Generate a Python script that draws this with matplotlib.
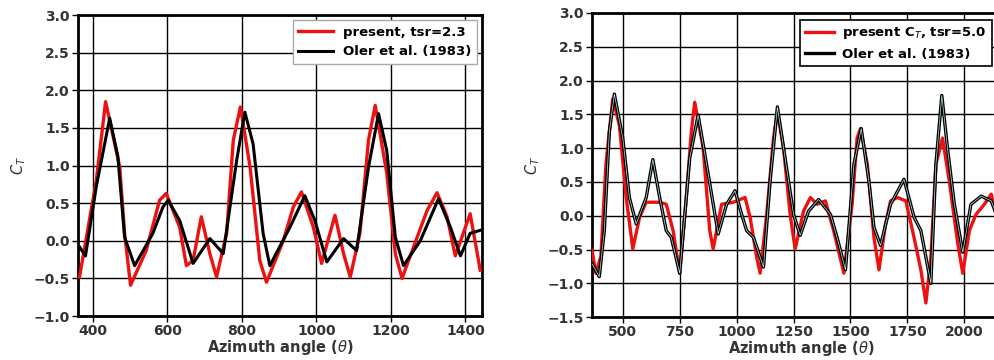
import matplotlib
matplotlib.use("Agg")
import matplotlib.pyplot as plt

# Left panel (tsr = 2.3)
l_red_x = [364, 409, 434, 472, 485, 501, 543, 579, 597, 633, 651, 669, 691, 714, 732, 759, 777, 796,
           822, 848, 866, 911, 938, 960, 992, 1014, 1050, 1073, 1091, 1117, 1140, 1158, 1189, 1212,
           1230, 1261, 1297, 1324, 1351, 1373, 1413, 1440]
l_red_y = [-0.48, 0.80, 1.85, 0.98, 0.10, -0.59, -0.13, 0.54, 0.63, 0.18, -0.33, -0.26, 0.32, -0.17,
           -0.48, 0.10, 1.34, 1.78, 0.98, -0.26, -0.55, 0.00, 0.45, 0.65, 0.18, -0.30, 0.34, -0.17,
           -0.48, 0.10, 1.34, 1.80, 0.90, -0.17, -0.50, -0.08, 0.40, 0.64, 0.32, -0.20, 0.36, -0.39]
l_blk_x = [364, 380, 409, 445, 467, 485, 512, 561, 588, 602, 633, 669, 714, 750, 786, 808, 830, 857,
           875, 929, 969, 996, 1028, 1073, 1108, 1140, 1167, 1189, 1212, 1234, 1279, 1328, 1360,
           1387, 1413, 1440]
l_blk_y = [-0.08, -0.20, 0.72, 1.63, 1.12, 0.05, -0.33, 0.10, 0.45, 0.54, 0.27, -0.30, 0.03, -0.17,
           1.07, 1.71, 1.29, 0.10, -0.33, 0.18, 0.60, 0.27, -0.28, 0.03, -0.13, 0.98, 1.69, 1.20,
           0.05, -0.33, 0.00, 0.56, 0.18, -0.20, 0.10, 0.14]

# Right panel (tsr = 5.0)
r_red_x = [365, 382, 404, 426, 456, 485, 515, 544, 574, 603, 662, 691, 721, 750, 779, 801, 816, 853,
           882, 897, 934, 985, 1037, 1059, 1088, 1103, 1132, 1162, 1179, 1206, 1235, 1257, 1294,
           1324, 1353, 1390, 1426, 1471, 1507, 1529, 1544, 1574, 1603, 1625, 1654, 1676, 1706,
           1743, 1779, 1809, 1831, 1853, 1875, 1904, 1934, 1971, 1993, 2022, 2051, 2088, 2118, 2135]
r_red_y = [-0.51, -0.85, -0.60, 0.76, 1.73, 1.34, 0.27, -0.49, -0.02, 0.20, 0.20, 0.17, -0.22, -0.85,
           0.27, 1.24, 1.68, 1.00, -0.22, -0.49, 0.17, 0.20, 0.27, -0.02, -0.61, -0.85, 0.02, 1.15,
           1.54, 1.00, 0.02, -0.49, 0.07, 0.27, 0.17, 0.22, -0.22, -0.85, 0.17, 1.15, 1.29, 0.76,
           -0.32, -0.80, -0.12, 0.22, 0.27, 0.22, -0.32, -0.80, -1.29, -0.61, 0.76, 1.15, 0.51,
           -0.41, -0.85, -0.22, 0.02, 0.17, 0.32, 0.07]
r_blk_x = [365, 397, 419, 441, 463, 500, 529, 559, 603, 632, 662, 691, 713, 750, 794, 831, 868, 919,
           956, 993, 1022, 1044, 1074, 1118, 1147, 1179, 1213, 1250, 1279, 1316, 1360, 1412, 1441,
           1478, 1515, 1547, 1581, 1603, 1632, 1676, 1735, 1779, 1809, 1853, 1875, 1901, 1926,
           1956, 1993, 2029, 2074, 2118, 2135]
r_blk_y = [-0.71, -0.90, -0.22, 1.24, 1.80, 1.15, 0.27, -0.12, 0.27, 0.83, 0.27, -0.22, -0.32, -0.85,
           0.85, 1.49, 0.76, -0.27, 0.17, 0.37, 0.02, -0.22, -0.32, -0.76, 0.51, 1.61, 0.85, 0.02,
           -0.29, 0.07, 0.24, 0.02, -0.32, -0.80, 0.76, 1.29, 0.51, -0.17, -0.44, 0.17, 0.54, -0.02,
           -0.22, -1.00, 0.76, 1.78, 1.00, 0.17, -0.54, 0.17, 0.29, 0.22, 0.07]

l_xticks = [400, 600, 800, 1000, 1200, 1400]
l_yticks = [-1.0, -0.5, 0.0, 0.5, 1.0, 1.5, 2.0, 2.5, 3.0]
r_xticks = [500, 750, 1000, 1250, 1500, 1750, 2000]
r_yticks = [-1.5, -1.0, -0.5, 0.0, 0.5, 1.0, 1.5, 2.0, 2.5, 3.0]

fig = plt.figure(figsize=(9.94, 3.6), dpi=100)
axL = fig.add_axes([0.0785, 0.122, 0.4065, 0.836])
axR = fig.add_axes([0.5956, 0.119, 0.4204, 0.845])

def style(ax, xt, yt, xl, yl):
    ax.set_xlim(*xl)
    ax.set_ylim(*yl)
    ax.set_xticks(xt)
    ax.set_yticks(yt)
    ax.set_xticklabels([str(v) for v in xt], fontweight="bold", color="#333333")
    ax.set_yticklabels([f"{v:.1f}".replace("-", "\u2212") for v in yt], fontweight="bold",
                       color="#333333")
    ax.grid(True, color="black", linewidth=1.0, linestyle="-")
    ax.set_axisbelow(True)
    for s in ax.spines.values():
        s.set_linewidth(2.0)
    ax.tick_params(labelsize=10, length=4, width=1, pad=2)
    ax.set_xlabel(r"Azimuth angle ($\theta$)", fontsize=10.5, labelpad=0, fontweight="bold",
                  color="#333333")
    ax.set_ylabel(r"$C_T$", fontsize=10.5, color="#333333")

axL.plot(l_red_x, l_red_y, color="#ee1111", lw=2.4, label="present, tsr=2.3", zorder=3)
axL.plot(l_blk_x, l_blk_y, color="black", lw=2.2, label="Oler et al. (1983)", zorder=4)
style(axL, l_xticks, l_yticks, (360, 1445), (-1.0, 3.0))
legL = axL.legend(loc="upper right", prop={"size": 9.5, "weight": "bold"}, fancybox=False,
                  framealpha=1, handlelength=2.6, borderaxespad=0.4)
legL.get_frame().set_edgecolor("#aaaaaa")

axR.plot(r_red_x, r_red_y, color="#ee1111", lw=2.4, label=r"present C$_T$, tsr=5.0", zorder=3)
axR.plot(r_blk_x, r_blk_y, color="black", lw=2.4, label="Oler et al. (1983)", zorder=4)
axR.plot(r_blk_x, r_blk_y, color="#bfe8e8", lw=0.5, zorder=5)
style(axR, r_xticks, r_yticks, (365, 2200), (-1.5, 3.0))
legR = axR.legend(loc="upper left", bbox_to_anchor=(800 / 994, 1 - 20 / 360),
                  bbox_transform=fig.transFigure, borderaxespad=0,
                  prop={"size": 9.5, "weight": "bold"}, fancybox=False,
                  framealpha=1, handlelength=2.2, handletextpad=0.6)
legR.get_frame().set_edgecolor("black")
legR.get_frame().set_linewidth(1.2)

fig.savefig("out.png", dpi=100)
